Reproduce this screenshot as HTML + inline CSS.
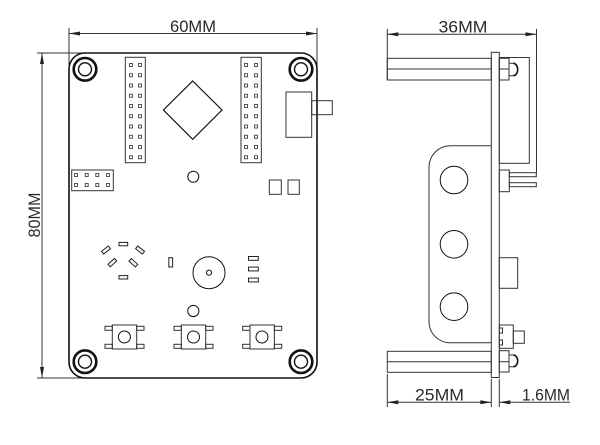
<!DOCTYPE html>
<html><head><meta charset="utf-8"><style>
html,body{margin:0;padding:0;background:#fff;}
svg{display:block;}
text{font-family:"Liberation Sans",sans-serif;fill:#2a2a2a;}
</style></head><body>
<svg width="600" height="445" viewBox="0 0 600 445" xmlns="http://www.w3.org/2000/svg">
<g fill="none" stroke="#333" stroke-width="1">
<!-- ===== LEFT VIEW dimensions ===== -->
<line x1="69" y1="28" x2="69" y2="70"/>
<line x1="317" y1="28" x2="317" y2="70"/>
<line x1="69" y1="33.5" x2="317" y2="33.5"/>
<line x1="37" y1="53" x2="84" y2="53"/>
<line x1="37" y1="378" x2="84" y2="378"/>
<line x1="42" y1="53" x2="42" y2="378"/>
</g>
<g fill="#222" stroke="none">
<polygon points="69,33.5 80,31.5 80,35.5"/>
<polygon points="317,33.5 306,31.5 306,35.5"/>
<polygon points="42,53 40,64 44,64"/>
<polygon points="42,378 40,367 44,367"/>
</g>
<text x="193" y="32" font-size="17" text-anchor="middle" textLength="46" lengthAdjust="spacingAndGlyphs">60MM</text>
<text transform="translate(40,215) rotate(-90)" x="0" y="0" font-size="17" text-anchor="middle" textLength="45" lengthAdjust="spacingAndGlyphs">80MM</text>

<!-- board outline -->
<rect x="69" y="53" width="248" height="325" rx="16" ry="16" fill="none" stroke="#111" stroke-width="1.6"/>

<!-- mounting holes -->
<g fill="none" stroke="#111">
<circle cx="85" cy="69.3" r="11.3" stroke-width="2.6"/>
<circle cx="85" cy="69.3" r="6.5" stroke-width="1.4"/>
<circle cx="301" cy="69.3" r="11.3" stroke-width="2.6"/>
<circle cx="301" cy="69.3" r="6.5" stroke-width="1.4"/>
<circle cx="85" cy="361.7" r="11.3" stroke-width="2.6"/>
<circle cx="85" cy="361.7" r="6.5" stroke-width="1.4"/>
<circle cx="301" cy="361.7" r="11.3" stroke-width="2.6"/>
<circle cx="301" cy="361.7" r="6.5" stroke-width="1.4"/>
</g>

<g fill="none" stroke="#333" stroke-width="1">
<!-- headers -->
<rect x="125.3" y="57.3" width="20" height="105.4"/>
<rect x="241" y="57.3" width="20.3" height="105.4"/>
<!-- diamond -->
<polygon points="192.7,81 222,110 192.7,139.3 163.4,110" stroke="#111" stroke-width="1.2"/>
<!-- switch -->
<rect x="286" y="92" width="25.7" height="45.3"/>
<rect x="311.7" y="100.7" width="20.6" height="14"/>
<!-- small circles -->
<circle cx="193.3" cy="176.7" r="5.5" stroke="#111"/>
<circle cx="193.3" cy="311" r="5.6" stroke="#111"/>
<!-- two squares -->
<rect x="269.3" y="180" width="12" height="14.3"/>
<rect x="288" y="180" width="11.3" height="14.3"/>
<!-- 2x4 header -->
<rect x="71.7" y="170" width="41.6" height="20.7"/>
<!-- LED pads -->
<rect x="119" y="242.4" width="8.7" height="3.4" stroke="#222"/>
<rect x="119" y="275.6" width="8.7" height="3.4" stroke="#222"/>
<rect x="101.7" y="248.3" width="8.7" height="3.4" transform="rotate(-38 106 250)" stroke="#222"/>
<rect x="135.7" y="248.3" width="8.7" height="3.4" transform="rotate(38 140 250)" stroke="#222"/>
<rect x="108" y="261" width="8.7" height="3.4" transform="rotate(-42 112.3 262.7)" stroke="#222"/>
<rect x="129" y="261" width="8.7" height="3.4" transform="rotate(42 133.3 262.7)" stroke="#222"/>
<!-- small vertical rect -->
<rect x="168.8" y="257.7" width="3.8" height="9.3" stroke="#222"/>
<!-- buzzer -->
<circle cx="209" cy="272.7" r="16" stroke="#111"/>
<circle cx="209" cy="272.7" r="2.6" stroke="#111"/>
<!-- 3 small rects -->
<rect x="248.5" y="256.5" width="9.8" height="3.8" stroke="#222"/>
<rect x="248.5" y="267.1" width="9.8" height="3.8" stroke="#222"/>
<rect x="248.5" y="278.1" width="9.8" height="3.8" stroke="#222"/>
<!-- buttons -->
<rect x="112.3" y="325" width="24.4" height="24"/>
<rect x="105" y="326.3" width="7.3" height="4"/>
<rect x="105" y="344.3" width="7.3" height="4"/>
<rect x="136.7" y="326.3" width="7.3" height="4"/>
<rect x="136.7" y="344.3" width="7.3" height="4"/>
<circle cx="124.4" cy="337" r="6" stroke="#111"/>

<rect x="181.3" y="325" width="24.4" height="24"/>
<rect x="174" y="326.3" width="7.3" height="4"/>
<rect x="174" y="344.3" width="7.3" height="4"/>
<rect x="205.7" y="326.3" width="7.3" height="4"/>
<rect x="205.7" y="344.3" width="7.3" height="4"/>
<circle cx="193.5" cy="337" r="6" stroke="#111"/>

<rect x="250" y="325" width="24.4" height="24"/>
<rect x="242.7" y="326.3" width="7.3" height="4"/>
<rect x="242.7" y="344.3" width="7.3" height="4"/>
<rect x="274.4" y="326.3" width="7.3" height="4"/>
<rect x="274.4" y="344.3" width="7.3" height="4"/>
<circle cx="262" cy="337" r="6" stroke="#111"/>
</g>

<!-- header pin squares -->
<g fill="none" stroke="#444" stroke-width="0.9">
<rect x="129.5" y="63.5" width="3" height="3"/><rect x="138.5" y="63.5" width="3" height="3"/>
<rect x="129.5" y="73.75" width="3" height="3"/><rect x="138.5" y="73.75" width="3" height="3"/>
<rect x="129.5" y="84" width="3" height="3"/><rect x="138.5" y="84" width="3" height="3"/>
<rect x="129.5" y="94.25" width="3" height="3"/><rect x="138.5" y="94.25" width="3" height="3"/>
<rect x="129.5" y="104.5" width="3" height="3"/><rect x="138.5" y="104.5" width="3" height="3"/>
<rect x="129.5" y="114.75" width="3" height="3"/><rect x="138.5" y="114.75" width="3" height="3"/>
<rect x="129.5" y="125" width="3" height="3"/><rect x="138.5" y="125" width="3" height="3"/>
<rect x="129.5" y="135.25" width="3" height="3"/><rect x="138.5" y="135.25" width="3" height="3"/>
<rect x="129.5" y="145.5" width="3" height="3"/><rect x="138.5" y="145.5" width="3" height="3"/>
<rect x="129.5" y="155.75" width="3" height="3"/><rect x="138.5" y="155.75" width="3" height="3"/>

<rect x="244.5" y="63.5" width="3" height="3"/><rect x="254.5" y="63.5" width="3" height="3"/>
<rect x="244.5" y="73.75" width="3" height="3"/><rect x="254.5" y="73.75" width="3" height="3"/>
<rect x="244.5" y="84" width="3" height="3"/><rect x="254.5" y="84" width="3" height="3"/>
<rect x="244.5" y="94.25" width="3" height="3"/><rect x="254.5" y="94.25" width="3" height="3"/>
<rect x="244.5" y="104.5" width="3" height="3"/><rect x="254.5" y="104.5" width="3" height="3"/>
<rect x="244.5" y="114.75" width="3" height="3"/><rect x="254.5" y="114.75" width="3" height="3"/>
<rect x="244.5" y="125" width="3" height="3"/><rect x="254.5" y="125" width="3" height="3"/>
<rect x="244.5" y="135.25" width="3" height="3"/><rect x="254.5" y="135.25" width="3" height="3"/>
<rect x="244.5" y="145.5" width="3" height="3"/><rect x="254.5" y="145.5" width="3" height="3"/>
<rect x="244.5" y="155.75" width="3" height="3"/><rect x="254.5" y="155.75" width="3" height="3"/>

<rect x="74.5" y="173.5" width="3" height="3"/><rect x="85.2" y="173.5" width="3" height="3"/>
<rect x="95.8" y="173.5" width="3" height="3"/><rect x="106.5" y="173.5" width="3" height="3"/>
<rect x="74.5" y="183.5" width="3" height="3"/><rect x="85.2" y="183.5" width="3" height="3"/>
<rect x="95.8" y="183.5" width="3" height="3"/><rect x="106.5" y="183.5" width="3" height="3"/>
</g>

<!-- ===== RIGHT VIEW ===== -->
<g fill="none" stroke="#333" stroke-width="1">
<!-- 36MM dimension -->
<line x1="387.3" y1="29" x2="387.3" y2="80"/>
<line x1="536.5" y1="29" x2="536.5" y2="173"/>
<line x1="387.3" y1="34.3" x2="536.5" y2="34.3"/>
<!-- PCB -->
<rect x="491.3" y="52.3" width="8" height="325.2"/>
<!-- top standoff -->
<rect x="387.3" y="58.3" width="104" height="21.7"/>
<line x1="387.3" y1="69" x2="491.3" y2="69"/>
<!-- top nut -->
<rect x="499.3" y="58.3" width="9.7" height="21.7"/>
<line x1="499.3" y1="69" x2="509" y2="69"/>
<path d="M509 63.3 H513.3 A4.4 6.2 0 0 1 513.3 75.7 H509"/>
<!-- bracket -->
<rect x="499.3" y="57.5" width="30" height="105.8"/>
<!-- pin header -->
<rect x="499.3" y="170" width="10" height="21.7"/>
<rect x="509.3" y="172.7" width="27" height="4"/>
<rect x="509.3" y="182.7" width="27" height="4"/>
<!-- enclosure -->
<path d="M491.3 145.7 H450.5 A21.5 21.5 0 0 0 429 167.2 V321.7 A21 21 0 0 0 450 342.7 H491.3"/>
<circle cx="454" cy="180" r="13.8" stroke="#111"/>
<circle cx="454" cy="244.3" r="13.8" stroke="#111"/>
<circle cx="454" cy="306.7" r="13.8" stroke="#111"/>
<!-- side component -->
<rect x="499.3" y="257.7" width="18.4" height="30.6"/>
<!-- side button -->
<rect x="499.3" y="325" width="14" height="23.3"/>
<path d="M499.3 328 H502.5 V333 H499.3 M499.3 340 H502.5 V345 H499.3"/>
<rect x="513.3" y="331" width="11" height="12.3"/>
<!-- bottom standoff -->
<rect x="387.3" y="351.3" width="104" height="21"/>
<line x1="387.3" y1="361.7" x2="491.3" y2="361.7"/>
<!-- bottom nut -->
<rect x="499.3" y="350.7" width="9.7" height="21.3"/>
<line x1="499.3" y1="361.7" x2="509" y2="361.7"/>
<path d="M509 355 H513.3 A4.4 5.85 0 0 1 513.3 366.7 H509"/>
<!-- bottom dimensions -->
<line x1="387.3" y1="374" x2="387.3" y2="407"/>
<line x1="491.3" y1="379" x2="491.3" y2="407"/>
<line x1="499.3" y1="379" x2="499.3" y2="407"/>
<line x1="387.3" y1="402.3" x2="491.3" y2="402.3"/>
<line x1="499.3" y1="402.3" x2="570" y2="402.3"/>
</g>
<path d="M513.3 63.3 A4.4 6.2 0 0 1 513.3 75.7" fill="none" stroke="#111" stroke-width="1.6"/>
<path d="M513.3 355 A4.4 5.85 0 0 1 513.3 366.7" fill="none" stroke="#111" stroke-width="1.6"/>
<g fill="#222" stroke="none">
<polygon points="387.3,34.3 398.3,32.3 398.3,36.3"/>
<polygon points="536.5,34.3 525.5,32.3 525.5,36.3"/>
<polygon points="387.3,402.3 398.3,400.3 398.3,404.3"/>
<polygon points="491.3,402.3 480.3,400.3 480.3,404.3"/>
<polygon points="499.3,402.3 510.3,400.3 510.3,404.3"/>
</g>
<text x="463" y="32.7" font-size="17" text-anchor="middle" textLength="49" lengthAdjust="spacingAndGlyphs">36MM</text>
<text x="439.5" y="400.7" font-size="17" text-anchor="middle" textLength="49" lengthAdjust="spacingAndGlyphs">25MM</text>
<text x="546" y="400.7" font-size="17" text-anchor="middle" textLength="48" lengthAdjust="spacingAndGlyphs">1.6MM</text>
</svg>
</body></html>
